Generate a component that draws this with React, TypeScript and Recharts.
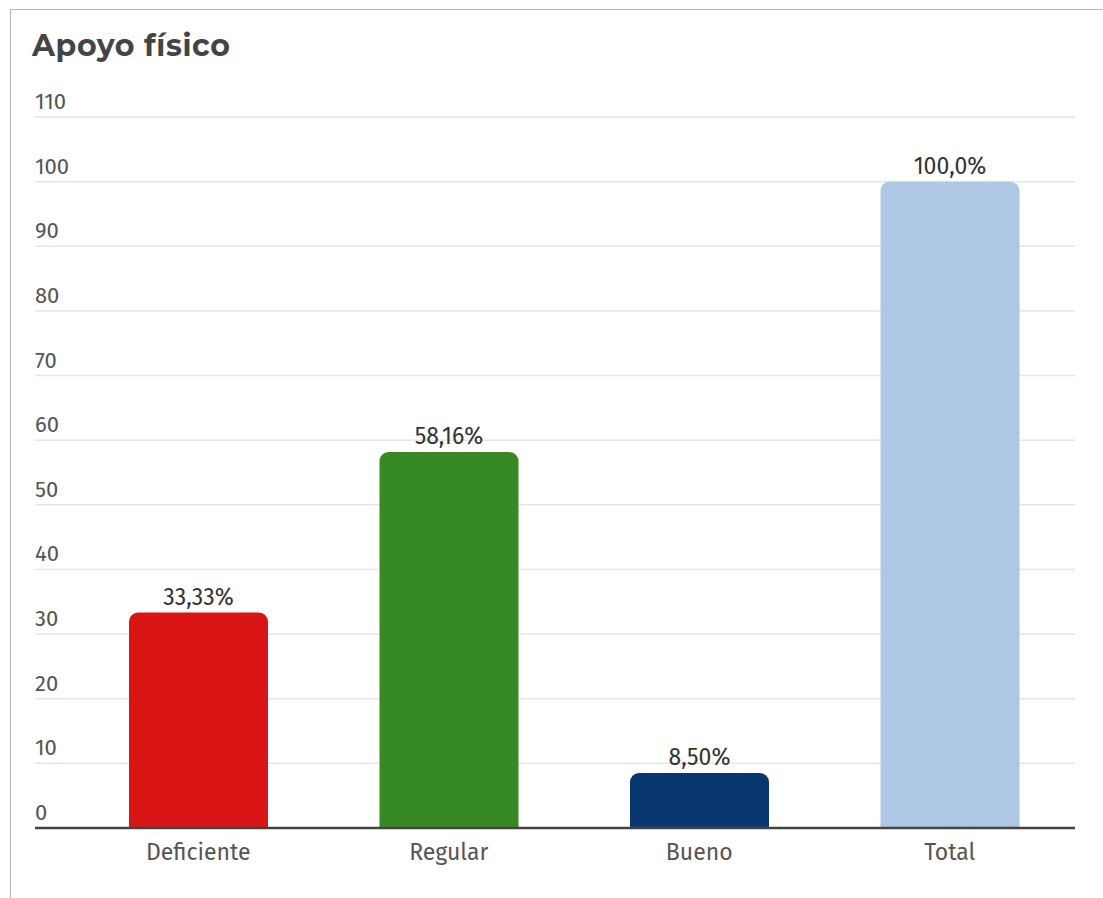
import React from "react"
import {
  BarChart,
  Bar,
  XAxis,
  YAxis,
  CartesianGrid,
  Cell,
  LabelList,
} from "recharts"

const categories = ["Deficiente", "Regular", "Bueno", "Total"]
const values = [33.33, 58.16, 8.5, 100]
const valueLabels = ["33,33%", "58,16%", "8,50%", "100,0%"]
const barColors = ["#d91515", "#378a23", "#08366f", "#adc7e5"]
const yTicks = [0, 10, 20, 30, 40, 50, 60, 70, 80, 90, 100, 110]

const data = categories.map((name, i) => ({
  name,
  value: values[i],
  label: valueLabels[i],
}))

const FONT = "'Fira Sans', 'Noto Sans', 'Open Sans', sans-serif"

const renderYTick = (props: any) => {
  const { y, payload } = props
  return (
    <text x={24} y={y - 8} fill="#555" fontSize={22} fontFamily={FONT} textAnchor="start">
      {payload.value}
    </text>
  )
}

const renderXTick = (props: any) => {
  const { x, y, payload } = props
  return (
    <text x={x} y={y + 32} fill="#555" fontSize={23} fontFamily={FONT} textAnchor="middle">
      {payload.value}
    </text>
  )
}

export default function App() {
  return (
    <div
      style={{
        position: "fixed",
        left: 10,
        top: 9,
        width: 1093,
        height: 889,
        borderLeft: "1px solid #b5b5b5",
        borderTop: "1px solid #b5b5b5",
        background: "#fff",
        overflow: "hidden",
      }}
    >
      <div
        style={{
          position: "absolute",
          left: 21,
          top: 18,
          fontFamily: "Montserrat, 'Open Sans', sans-serif",
          fontWeight: 700,
          fontSize: 30,
          color: "#444",
          letterSpacing: 0.6,
          lineHeight: "36px",
        }}
      >
        Apoyo físico
      </div>
      <BarChart
        width={1092}
        height={888}
        data={data}
        margin={{ top: 107, right: 28, left: 23, bottom: 30 }}
      >
        <CartesianGrid vertical={false} stroke="#e6e6e6" strokeWidth={1.5} />
        <YAxis
          domain={[0, 110]}
          ticks={yTicks}
          width={1}
          axisLine={false}
          tickLine={false}
          tick={renderYTick}
          interval={0}
        />
        <XAxis
          dataKey="name"
          padding={{ left: 38, right: 0 }}
          height={40}
          axisLine={{ stroke: "#444", strokeWidth: 2.5 }}
          tickLine={false}
          tickSize={0}
          tickMargin={0}
          tick={renderXTick}
        />
        <Bar dataKey="value" barSize={139} radius={[9, 9, 0, 0]} isAnimationActive={false}>
          {data.map((d, i) => (
            <Cell key={d.name} fill={barColors[i]} />
          ))}
          <LabelList
            dataKey="label"
            position="top"
            offset={8}
            style={{ fill: "#333", fontSize: 23, fontFamily: FONT }}
          />
        </Bar>
      </BarChart>
    </div>
  )
}
